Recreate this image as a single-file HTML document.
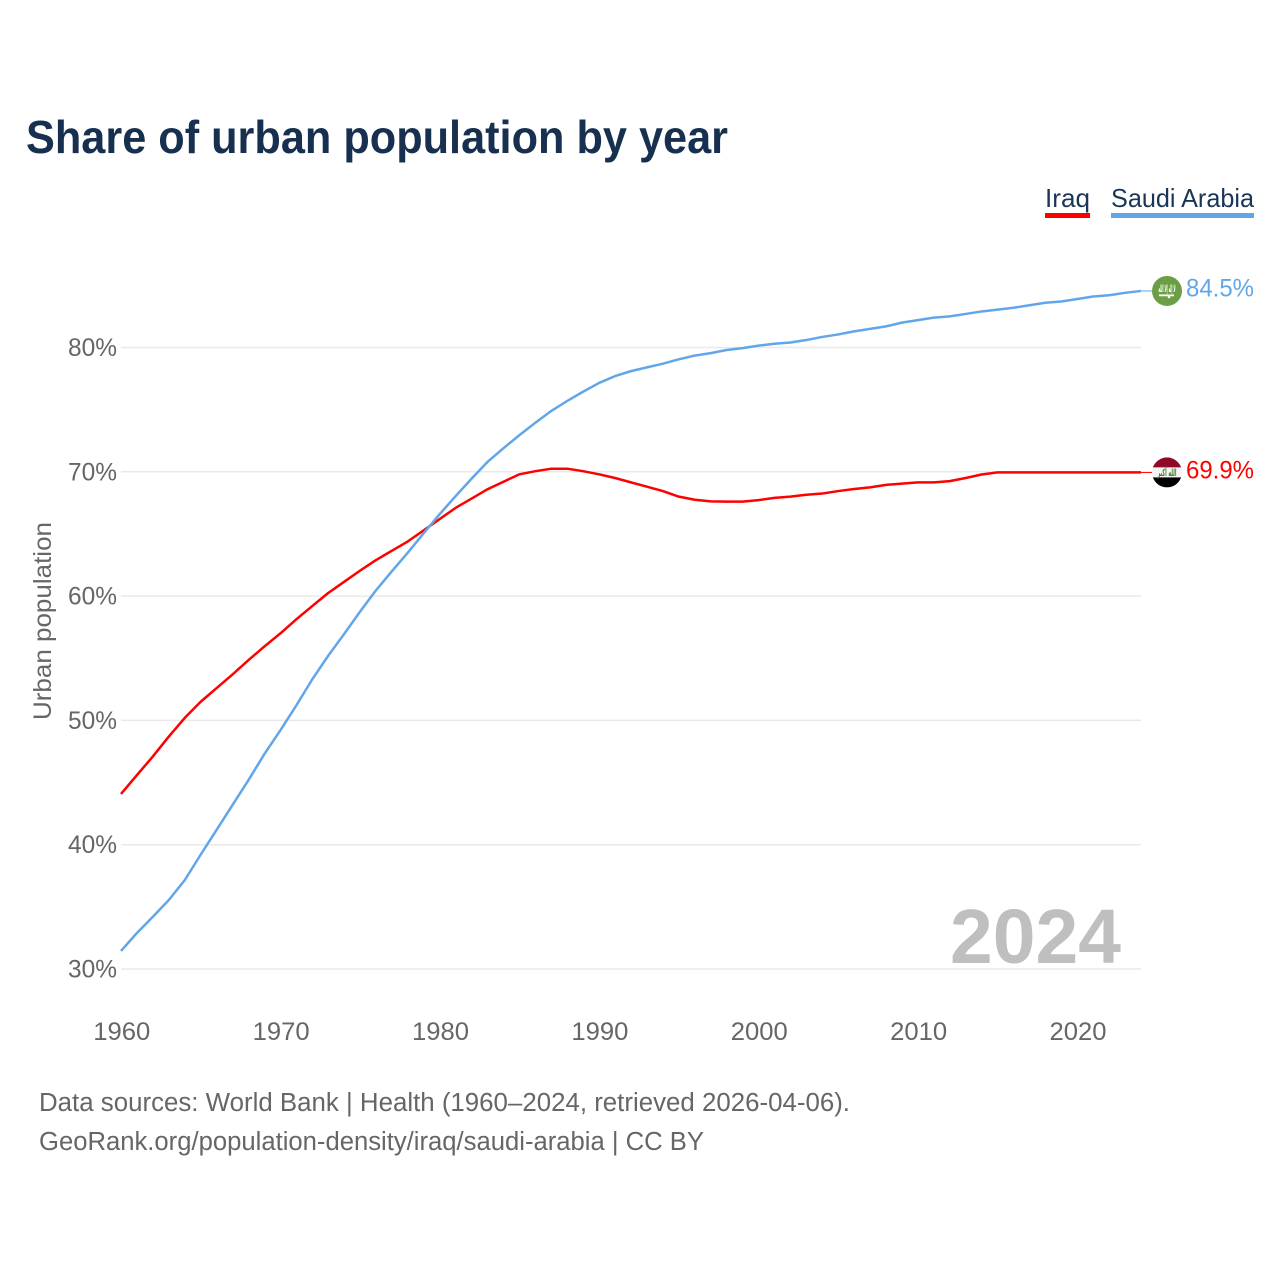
<!DOCTYPE html>
<html lang="en">
<head>
<meta charset="utf-8">
<title>Share of urban population by year</title>
<style>
html,body{margin:0;padding:0;background:#fff;width:1280px;height:1280px;overflow:hidden}
svg{display:block}
text{font-family:"Liberation Sans",sans-serif}
</style>
</head>
<body>
<svg id="chart" xmlns="http://www.w3.org/2000/svg" width="1280" height="1280" viewBox="0 0 1280 1280">
  <rect width="1280" height="1280" fill="#fff"/>
  <text x="26" y="153" font-size="46" font-weight="700" fill="#17304f" textLength="702" lengthAdjust="spacingAndGlyphs">Share of urban population by year</text>

  <g>
    <g>
      <text x="1045" y="207" font-size="26" fill="#1b3557" textLength="45" lengthAdjust="spacingAndGlyphs">Iraq</text>
      <rect x="1045" y="213" width="45" height="5" fill="#ff0000"/>
    </g>
    <g>
      <text x="1111" y="207" font-size="26" fill="#1b3557" textLength="143" lengthAdjust="spacingAndGlyphs">Saudi Arabia</text>
      <rect x="1111" y="213" width="143" height="5" fill="#62a6ea"/>
    </g>
  </g>

  <g id="grid"></g>
  <g id="yticks"></g>
  <g id="xticks"></g>

  <text transform="translate(51,720) rotate(-90)" font-size="25" fill="#666666" textLength="198" lengthAdjust="spacingAndGlyphs">Urban population</text>

  <text x="950" y="963" font-size="77" font-weight="700" fill="#bfbfbf" textLength="171" lengthAdjust="spacingAndGlyphs">2024</text>

  <g id="series"></g>
  <g id="ends"></g>

  <text x="39" y="1111" font-size="25.5" fill="#666666" textLength="811" lengthAdjust="spacingAndGlyphs">Data sources: World Bank | Health (1960–2024, retrieved 2026-04-06).</text>
  <text x="39" y="1150" font-size="25.5" fill="#666666" textLength="665" lengthAdjust="spacingAndGlyphs">GeoRank.org/population-density/iraq/saudi-arabia | CC BY</text>
</svg>

<script>
const startYear = 1960;
const xTickYears = [1960, 1970, 1980, 1990, 2000, 2010, 2020];
const yTickValues = [30, 40, 50, 60, 70, 80];
const iraqValues = [
  44.08, 45.6, 47.1, 48.7, 50.2, 51.5, 52.6, 53.7, 54.85, 55.95,
  57.0, 58.13, 59.2, 60.25, 61.15, 62.05, 62.9, 63.65, 64.4, 65.3,
  66.2, 67.1, 67.85, 68.6, 69.2, 69.8, 70.05, 70.25, 70.25, 70.05,
  69.8, 69.5, 69.15, 68.8, 68.45, 68.0, 67.75, 67.62, 67.6, 67.6,
  67.72, 67.9, 68.0, 68.15, 68.25, 68.45, 68.62, 68.75, 68.95, 69.05,
  69.15, 69.15, 69.25, 69.5, 69.78, 69.95, 69.95, 69.95, 69.95, 69.95,
  69.95, 69.95, 69.95, 69.95, 69.95
];
const saudiValues = [
  31.45, 32.9, 34.2, 35.55, 37.15, 39.2, 41.2, 43.2, 45.2, 47.3,
  49.2, 51.2, 53.3, 55.2, 56.95, 58.75, 60.47, 62.0, 63.5, 65.07,
  66.6, 68.05, 69.45, 70.8, 71.9, 72.95, 73.95, 74.9, 75.7, 76.45,
  77.15, 77.7, 78.1, 78.4, 78.7, 79.05, 79.35, 79.55, 79.8, 79.95,
  80.15, 80.3, 80.4, 80.6, 80.85, 81.05, 81.3, 81.5, 81.7, 82.0,
  82.2, 82.4, 82.5, 82.7, 82.9, 83.05, 83.2, 83.4, 83.6, 83.7,
  83.9, 84.1, 84.2, 84.4, 84.55
];
const endLabels = ["69.9%", "84.5%"];

const NS = "http://www.w3.org/2000/svg";
function xScale(year) { return 121 + (year - 1960) * (1141 - 121) / 64; }
function yScale(value) { return 969 - (value - 30) * (969 - 347.5) / 50; }
function make(tag, attrs, parent, txt) {
  const el = document.createElementNS(NS, tag);
  for (const k in attrs) el.setAttribute(k, attrs[k]);
  if (txt !== undefined) el.textContent = txt;
  parent.appendChild(el);
  return el;
}
function linePath(values) {
  return values.map(function (v, i) {
    return (i ? "L" : "M") + xScale(startYear + i).toFixed(2) + " " + yScale(v).toFixed(2);
  }).join(" ");
}

const gridG = document.getElementById("grid");
const yG = document.getElementById("yticks");
yTickValues.forEach(function (v) {
  const gl = make("line", { x1: xScale(1960), x2: xScale(2024), y1: yScale(v), y2: yScale(v), stroke: "#e9e9e9", "stroke-width": 1.5 }, gridG);
  
  
  const t = make("text", { x: 117, y: yScale(v) + 8.5, "text-anchor": "end", "font-size": 25, fill: "#666666", textLength: 49, lengthAdjust: "spacingAndGlyphs" }, yG, v + "%");
  
  
});

const xG = document.getElementById("xticks");
xTickYears.forEach(function (yr) {
  const t = make("text", { x: xScale(yr) + 0.8, y: 1040, "text-anchor": "middle", "font-size": 25, fill: "#666666", textLength: 57, lengthAdjust: "spacingAndGlyphs" }, xG, String(yr));
  
  
});

const seriesG = document.getElementById("series");
const iraqLine = make("path", { d: linePath(iraqValues), fill: "none", stroke: "#ff0000", "stroke-width": 2.5, "stroke-linejoin": "round" }, seriesG);


const saudiLine = make("path", { d: linePath(saudiValues), fill: "none", stroke: "#62a6ea", "stroke-width": 2.5, "stroke-linejoin": "round" }, seriesG);



const endsG = document.getElementById("ends");
const lastX = xScale(startYear + iraqValues.length - 1);
const cx = lastX + 26;

/* Iraq end marker */
const iy = yScale(iraqValues[iraqValues.length - 1]);
const iConn = make("line", { x1: lastX, x2: cx - 15, y1: iy, y2: iy, stroke: "#ff0000", "stroke-width": 1 }, endsG);


const iClip = make("clipPath", { id: "clip-iq" }, endsG);
make("circle", { cx: cx, cy: iy, r: 15 }, iClip);
const iFlag = make("g", { "clip-path": "url(#clip-iq)" }, endsG);


make("rect", { x: cx - 15, y: iy - 15, width: 30, height: 10, fill: "#8f0a26" }, iFlag);
make("rect", { x: cx - 15, y: iy - 5, width: 30, height: 10, fill: "#f4f4f4" }, iFlag);
make("rect", { x: cx - 15, y: iy + 5, width: 30, height: 10, fill: "#000000" }, iFlag);
make("text", { x: cx, y: iy + 3.5, "text-anchor": "middle", "font-size": 10, "font-weight": 700, fill: "#3f7d2c", style: 'font-family:"DejaVu Sans",sans-serif', textLength: 19, lengthAdjust: "spacingAndGlyphs" }, iFlag, "الله أكبر");
const iLabel = make("text", { x: 1186, y: iy + 6, "font-size": 25, fill: "#ff0000", textLength: 68, lengthAdjust: "spacingAndGlyphs" }, endsG, endLabels[0]);



/* Saudi end marker */
const sy = yScale(saudiValues[saudiValues.length - 1]);
const sConn = make("line", { x1: lastX, x2: cx - 15, y1: sy, y2: sy, stroke: "#62a6ea", "stroke-width": 1 }, endsG);


const sFlag = make("g", {}, endsG);


make("circle", { cx: cx, cy: sy, r: 15, fill: "#6c9f45" }, sFlag);
make("text", { x: cx, y: sy + 1, "text-anchor": "middle", "font-size": 10, "font-weight": 700, fill: "#ffffff", style: 'font-family:"DejaVu Sans",sans-serif', textLength: 17, lengthAdjust: "spacingAndGlyphs" }, sFlag, "لا إله إلا الله");
make("rect", { x: cx - 8, y: sy + 3.5, width: 15, height: 1.8, fill: "#ffffff" }, sFlag);
make("circle", { cx: cx + 2, cy: sy + 6, r: 1.3, fill: "#ffffff" }, sFlag);
const sLabel = make("text", { x: 1186, y: sy + 5.5, "font-size": 25, fill: "#62a6ea", textLength: 68, lengthAdjust: "spacingAndGlyphs" }, endsG, endLabels[1]);


</script>
</body>
</html>
